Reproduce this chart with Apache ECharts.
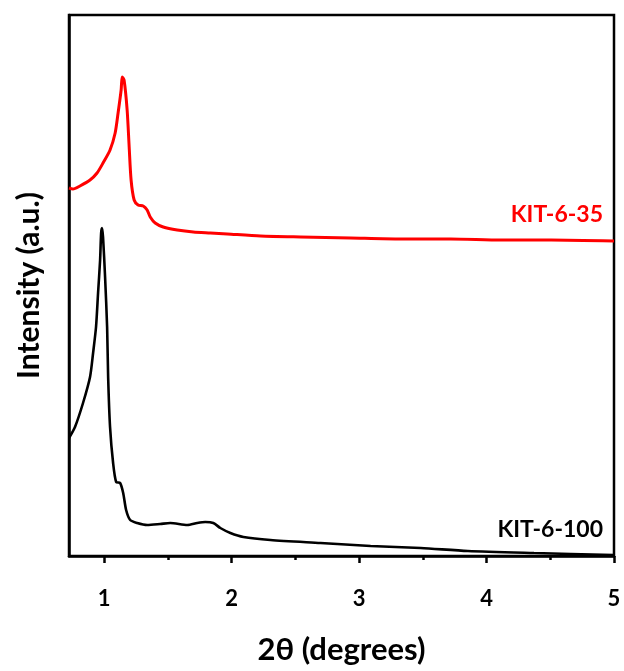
<!DOCTYPE html>
<html>
<head>
<meta charset="utf-8">
<script src="https://cdn.jsdelivr.net/npm/echarts@6/dist/echarts.min.js"></script>
<style>
html,body{margin:0;padding:0;background:#fff;}
#chart{width:624px;height:671px;}
</style>
</head>
<body>
<div id="chart"></div>
<script>
// 2theta values and intensities (a.u.)
var kit35X = [0.725,0.756,0.811,0.890,0.945,0.992,1.047,1.087,1.110,1.134,1.142,1.157,1.181,1.197,1.212,1.236,1.267,1.307,1.338,1.362,1.401,1.464,1.574,1.700,1.834,1.967,2.227,2.541,2.934,3.327,3.720,4.113,4.506,5.000];
var kit35Y = [368,367,370,376,383,393,406,423,443,466,479,476,446,409,376,356,351,350,346,339,333,329,326,324,323,322,320,319,318,317,317,316,316,315];

var kit100X = [0.725,0.772,0.835,0.890,0.914,0.937,0.953,0.969,0.977,0.984,0.992,1.008,1.024,1.032,1.047,1.071,1.095,1.126,1.150,1.173,1.205,1.260,1.338,1.440,1.519,1.653,1.731,1.794,1.857,1.912,1.991,2.093,2.305,2.698,3.091,3.484,3.854,4.373,5.000];
var kit100Y = [118,129,153,179,203,229,263,296,323,328,319,279,229,179,129,93,74,73,63,46,36,33,31,32,33,31,33,34,33,28,23,19,16,13,10,8,5,3,1];

var majorTicks = [1,2,3,4,5];
var minorTicks = [1.5,2.5,3.5,4.5];
var seriesNames = ['KIT-6-35','KIT-6-100'];
var xTitle = '2θ (degrees)';
var yTitle = 'Intensity (a.u.)';

function pairs(xs, ys){ return xs.map(function(x,i){ return [x, ys[i]]; }); }

var FONT = 'Lato';
var chart = echarts.init(document.getElementById('chart'));
chart.setOption({
  animation: false,
  backgroundColor: '#ffffff',
  grid: {left: 69, right: 10, top: 15, bottom: 115, show: true, borderColor: '#000', borderWidth: 2.5, backgroundColor: 'transparent'},
  xAxis: [{
    type: 'value', min: 0.725, max: 5,
    name: xTitle, nameLocation: 'middle', nameGap: 78,
    nameTextStyle: {fontFamily: FONT, fontWeight: 'bold', fontSize: 31, color: '#000'},
    axisLine: {show: true, lineStyle: {color: '#000', width: 2.5}},
    axisTick: {show: true, customValues: majorTicks, length: 7, lineStyle: {color: '#000', width: 2.5}},
    axisLabel: {show: true, customValues: majorTicks, margin: 32, fontFamily: FONT, fontWeight: 'bold', fontSize: 22, color: '#000'},
    splitLine: {show: false}
  },{
    type: 'value', min: 0.725, max: 5, position: 'bottom',
    axisLine: {show: false},
    axisTick: {show: true, customValues: minorTicks, length: 4, lineStyle: {color: '#000', width: 2.5}},
    axisLabel: {show: false},
    splitLine: {show: false}
  }],
  yAxis: {
    type: 'value', min: 0, max: 541,
    name: yTitle, nameLocation: 'middle', nameGap: 25,
    nameTextStyle: {fontFamily: FONT, fontWeight: 'bold', fontSize: 30, color: '#000'},
    axisLine: {show: true, lineStyle: {color: '#000', width: 2.5}},
    axisTick: {show: false}, axisLabel: {show: false}, splitLine: {show: false}
  },
  series: [{
    name: seriesNames[0], type: 'line', showSymbol: false, smooth: 0.25,
    data: pairs(kit35X, kit35Y),
    lineStyle: {color: '#ff0000', width: 3}
  },{
    name: seriesNames[1], type: 'line', showSymbol: false, smooth: 0.25,
    data: pairs(kit100X, kit100Y),
    lineStyle: {color: '#000000', width: 2.6}
  }],
  graphic: [
    {type: 'text', right: 21, top: 203, style: {text: seriesNames[0], fill: '#ff0000', font: 'bold 23px ' + FONT}},
    {type: 'text', right: 21, top: 518, style: {text: seriesNames[1], fill: '#000000', font: 'bold 23px ' + FONT}}
  ]
});
</script>
</body>
</html>
